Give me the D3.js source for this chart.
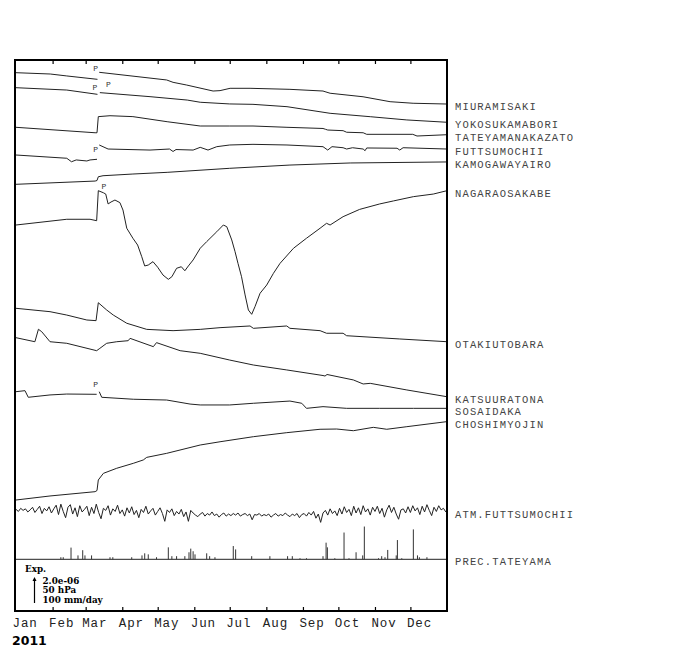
<!DOCTYPE html>
<html><head><meta charset="utf-8">
<script src="https://cdn.jsdelivr.net/npm/d3@7"></script>
<style>body{margin:0;background:#fff}</style>
</head><body>
<svg id="c" width="700" height="670"></svg>
<script>
// ---------- DATA ----------
const months = ["Jan","Feb","Mar","Apr","May","Jun","Jul","Aug","Sep","Oct","Nov","Dec"];
const monthStartDays = [0,31,59,90,120,151,181,212,243,273,304,334];
const yearLabel = "2011";

// strain series: [day of year, strain change in 1e-7 relative to Jan 1]; null = gap
const miuramisaki = [[0,0],[29,-1.0],[43,-2.5],[69,-5.1],[69.8,null],[70.5,0.3],[127.6,-5.6],[133,-7.4],[144.6,-9.5],[166.9,-14.1],[172.8,-13.8],[181.3,-12],[198.2,-12],[232,-12.8],[260,-14.1],[261.7,-14.6],[266,-15.8],[293.9,-18.5],[316.8,-22.3],[336.3,-23.5],[365,-24.1]];
const yokosukamabori = [[0,0],[43,-1.8],[69,-5.1],[70,null],[71,-3.8],[113.5,-6.9],[145,-9.5],[156,-11.2],[181,-12.5],[200.7,-12.8],[229.5,-14.6],[266,-19.7],[300,-22.3],[331,-24.8],[365,-26.6]];
const tateyamanakazato = [[0,0],[67,-4.2],[68.6,-4.2],[69.7,8.2],[79.6,8.9],[99,8.2],[128,4.3],[156,1.0],[181,1.0],[200.7,1.0],[229.5,0],[260,-0.9],[262,-1.5],[264,-2.1],[277,-2.6],[280,-3.8],[294,-4.2],[297,-5.4],[336,-5.4],[339.6,-6.7],[365,-5.7]];
const futtsumochii = [[0,0],[43,-2.5],[47,-5.2],[51,-3.8],[60,-4.6],[62.7,-3.8],[68.6,-3.3],[69.5,null],[70.5,7.7],[78,4.6],[113.5,3.8],[130,4.6],[133,2.7],[135.5,4.2],[150,3.8],[156,5.9],[162.6,3.8],[170,6.4],[181,7.7],[200.7,8.2],[229.5,7.7],[260,6.4],[264,3.8],[267.6,6.4],[277,5.6],[280,4.6],[285,5.6],[294,4.6],[295.6,3.3],[297,5.4],[322.7,5.2],[325,3.8],[327.8,5.6],[365,4.6]];
const kamogawayairo = [[0,0],[67,2.5],[68.6,2.9],[69.7,5.8],[73.7,6.6],[99,7.9],[128,9.2],[181,12.3],[232,14.8],[283,16.4],[365,17.2]];
const nagaraosakabe = [[0,0],[43,4.4],[62.7,4.4],[68.3,3.3],[69.7,26.4],[74,24.8],[76,23.8],[78,16.2],[80.5,17.7],[83.8,19.2],[88,17.2],[90.6,11.5],[93.8,-2.5],[99,-10.2],[103,-15.4],[106.5,-24.4],[109,-31.5],[112,-30.8],[116,-28.2],[120,-32.5],[124.5,-38.5],[129,-41.8],[132,-39.8],[136,-33.3],[140,-32.1],[143,-35.2],[146,-31.5],[150,-26.9],[156,-17.9],[161.5,-12.8],[170,-5.2],[175.6,0],[178.5,-1.3],[182.7,-11.5],[185.5,-20.5],[188,-29.5],[191,-39.8],[194,-53.8],[196.8,-65.4],[199.6,-68.7],[202.4,-62.8],[206.7,-52.5],[212.3,-46.2],[218,-37.2],[223.6,-29.5],[235,-17.9],[246,-10.2],[257.5,-2.5],[263,1.3],[266,0],[277,6.4],[291,12.0],[308,16.2],[319.6,18.5],[336.5,21.8],[353.4,23.8],[365,26.4]];
const otakiutobara = [[0,0],[28.8,-2.6],[43,-5.2],[60,-9.0],[67.8,-9.5],[69.7,4.3],[76.8,-1.3],[82.4,-5.2],[93.8,-11.5],[110.7,-16.2],[133,-17.2],[156,-16.2],[172.8,-14.9],[198.2,-13.6],[201,-15.4],[229.3,-13.6],[232,-15.4],[257.5,-17.2],[263,-19.2],[277,-19.2],[280,-21.1],[325,-23.6],[365,-25.7]];
const katsuuratona = [[0,0],[16,-3.1],[19,6.5],[21.8,4.6],[28.8,-3.1],[43,-4.3],[68.3,-10.0],[71,-8.2],[76.8,-4.3],[85.3,-3.1],[95,-2.3],[96.6,-0.5],[116.3,-6.9],[119,-3.8],[139,-10.0],[156,-12.0],[181,-17.2],[201,-21.0],[229.3,-24.8],[260,-29.1],[261.7,-29.5],[263.4,-28.3],[285.7,-32.5],[294,-35.6],[300,-35.1],[331,-40.2],[365,-45.4]];
const sosaidaka = [[0,0],[7.6,0.8],[10.4,-4.3],[28.8,-2.5],[43,-1.8],[68.3,-2.0],[69.4,null],[70.5,0],[72.6,-4.3],[99.3,-5.8],[127.6,-6.4],[147.4,-9.5],[156,-10.2],[181,-10.2],[201,-8.9],[232,-7.2],[242,-8.9],[246,-12.8],[260,-11.5],[280,-12.8],[308,-12.8],[336.5,-12.8],[365,-12.8]];
const choshimyojin = [[0,0],[28.8,3.1],[67,6.4],[68.6,7.3],[69.7,15.4],[74,20.5],[85.3,24.4],[99.3,28.2],[107.8,30.8],[110.7,32.8],[127.6,35.9],[156,42.3],[172.8,44.8],[201,48.7],[229.3,51.8],[257.5,54.4],[271.6,54.6],[285.7,53.3],[302.6,55.9],[314,54.4],[331,56.4],[365,60.3]];

// atmospheric pressure at Futtsumochii (hPa), one value every 2 days from Jan 1
const atmPressure = [
 1020,1016,1022,1018,1021,1015,1019,1024,1014,1020,1026,1012,1022,1017,1025,1013,            // Jan
 1021,1028,1010,1030,1016,1004,1024,1029,1011,1023,1006,1027,1015,1020,                      // Feb
 1026,1008,1024,1012,1030,1014,1002,1022,1018,1027,1009,1021,1016,1028,1012,                 // Mar
 1019,1007,1023,1013,1025,1010,1018,1004,1020,1014,1026,1011,1017,1022,1009,                 // Apr
 1016,1023,1012,997,1019,1014,1021,1008,1016,1011,1020,1006,1015,997,1018,1013,              // May
 1009,1006,1011,1014,1007,1012,1009,1015,1008,1011,1005,1010,1013,1007,1011,                 // Jun
 1008,1012,1009,1013,1007,1010,1012,1008,1011,1000,1010,1009,1012,1007,1010,                 // Jul
 1008,1011,1005,1009,1012,1007,1010,1008,1013,1009,1006,1011,1008,1012,1004,1010,            // Aug
 1012,1007,1014,1009,1016,1003,1011,995,1013,1018,1009,1021,1012,1017,1008,                  // Sep
 1022,1011,1025,1014,1020,1008,1026,1013,1023,1010,1027,1015,1021,1009,1024,                 // Oct
 1016,1026,1012,1022,1005,1019,1028,1014,1024,1011,1001,1019,1021,1013,1025,                 // Nov
 1014,1027,1017,1023,1010,1026,1015,1029,1018,1008,1024,1016,1027,1019,1022,1015];           // Dec
const atmStepDays = 2;

// daily precipitation at Tateyama (mm/day)
const precipDays = [38,40,46.6,52.5,56.5,58.4,64,79.6,82,98,106.7,109,112,119,129,132,136,143,146.5,148,150,151.6,161.5,164,168.5,184,186,199.6,215,230,234,240.5,246,260,262.6,263.7,270,277.8,282,288,293.6,295,307,309.7,312.5,314.8,322,323,326.7,336.5,340,341.6,348];
const precipMm   = [8,8,45,15,35,15,15,8,8,8,15,23,19,8,46,12,12,12,27,41,31,19,23,12,8,51,38,12,12,12,12,4,4,12,64,46,4,103,4,27,15,126,4,12,8,36,15,74,4,115,15,8,8];

// "P" marks: [series, day, strain]
const pMarks = [["MIURAMISAKI",67.5,3.4],["YOKOSUKAMABORI",66.9,0.3],["YOKOSUKAMABORI",78.2,2.6],["FUTTSUMOCHII",67.5,4.6],["NAGARAOSAKABE",74.5,30],["SOSAIDAKA",67.5,5.7]];

const strainNames = ["MIURAMISAKI","YOKOSUKAMABORI","TATEYAMANAKAZATO","FUTTSUMOCHII","KAMOGAWAYAIRO","NAGARAOSAKABE","OTAKIUTOBARA","KATSUURATONA","SOSAIDAKA","CHOSHIMYOJIN"];
const strainData = [miuramisaki,yokosukamabori,tateyamanakazato,futtsumochii,kamogawayairo,nagaraosakabe,otakiutobara,katsuuratona,sosaidaka,choshimyojin];

// ---------- LAYOUT ----------
const plot = {left:16, right:447, top:60, bottom:611};
const strainBase = [72.7,87.7,127.3,155,184.3,225,308.3,337.7,391.7,500]; // y of Jan 1 for each trace
const expLen = 26;             // legend arrow length in px
const atmRef = {p:1013, y:513};
const precBaseY = 559.3;
const monoFont = "Liberation Mono, monospace";

const svg = d3.select("#c");
const x = d3.scaleLinear().domain([0,365]).range([plot.left, plot.right]);
const strainPx = expLen/20;   // px per 1e-7

svg.append("defs").append("clipPath").attr("id","clip")
  .append("rect").attr("x",plot.left-1).attr("y",plot.top).attr("width",plot.right-plot.left+1).attr("height",plot.bottom-plot.top);

const g = svg.append("g").attr("clip-path","url(#clip)");
const endY = {};
const yFor = i => d3.scaleLinear().domain([0,20]).range([strainBase[i], strainBase[i]-20*strainPx]);
strainNames.forEach((name,i)=>{
  const y = yFor(i);
  const line = d3.line().defined(d=>d[1]!==null).x(d=>x(d[0])).y(d=>y(d[1]));
  g.append("path").datum(strainData[i]).attr("d",line)
    .attr("fill","none").attr("stroke","#222").attr("stroke-width",1);
  const last = strainData[i][strainData[i].length-1];
  endY[name] = y(last[1]);
});
// P marks
pMarks.forEach(([name,day,v])=>{
  const y = yFor(strainNames.indexOf(name));
  svg.append("text").attr("x",x(day)).attr("y",y(v)).attr("text-anchor","middle")
    .attr("dominant-baseline","central").attr("font-family",monoFont)
    .attr("font-size",8).attr("fill","#333").text("P");
});

// pressure
const yAtm = d3.scaleLinear().domain([atmRef.p, atmRef.p+50]).range([atmRef.y, atmRef.y-expLen]);
const atmLine = d3.line().x((d,i)=>x(i*atmStepDays)).y(d=>yAtm(d));
g.append("path").datum(atmPressure).attr("d",atmLine).attr("fill","none").attr("stroke","#222").attr("stroke-width",1);
endY["ATM.FUTTSUMOCHII"] = yAtm(atmPressure[atmPressure.length-1]);

// precipitation
const yPrec = d3.scaleLinear().domain([0,100]).range([precBaseY, precBaseY-expLen]);
g.append("line").attr("x1",plot.left).attr("x2",plot.right).attr("y1",precBaseY).attr("y2",precBaseY).attr("stroke","#222");
g.selectAll(".pb").data(precipDays).join("line").attr("class","pb")
  .attr("x1",d=>x(d)).attr("x2",d=>x(d)).attr("y1",yPrec(0)).attr("y2",(d,i)=>yPrec(precipMm[i]))
  .attr("stroke","#333").attr("stroke-width",1);
endY["PREC.TATEYAMA"] = precBaseY;

// frame
svg.append("rect").attr("x",plot.left-1).attr("y",plot.top).attr("width",plot.right-plot.left+1).attr("height",plot.bottom-plot.top)
  .attr("fill","none").attr("stroke","#000").attr("stroke-width",2);

// month ticks
const tickDays = monthStartDays.slice(1);
const axB = svg.append("g").attr("transform",`translate(0,${plot.bottom})`).call(d3.axisBottom(x).tickValues(tickDays).tickSize(-4).tickFormat(""));
const axT = svg.append("g").attr("transform",`translate(0,${plot.top})`).call(d3.axisTop(x).tickValues(tickDays).tickSize(-4).tickFormat(""));
[axB,axT].forEach(a=>{a.select(".domain").remove(); a.selectAll("line").attr("stroke","#000").attr("stroke-width",1.2);});

svg.selectAll(".ml").data(months).join("text").attr("class","ml")
  .attr("x",(d,i)=>x(monthStartDays[i])-3.5).attr("y",627)
  .attr("font-family",monoFont).attr("font-size",12.5).attr("letter-spacing",0.9).attr("fill","#222").text(d=>d);
svg.append("text").attr("x",12).attr("y",645).attr("font-family","DejaVu Sans, sans-serif").attr("font-weight","bold")
  .attr("font-size",12.5).attr("fill","#000").text(yearLabel);

// right labels
const labelNames = strainNames.concat(["ATM.FUTTSUMOCHII","PREC.TATEYAMA"]);
const labs = labelNames.map(n=>({n, y:endY[n]+3})).sort((a,b)=>a.y-b.y);
for(let k=1;k<labs.length;k++){ if(labs[k].y-labs[k-1].y<12) labs[k].y = labs[k-1].y+12; }
svg.selectAll(".rl").data(labs).join("text").attr("class","rl")
  .attr("x",455).attr("y",d=>d.y).attr("dominant-baseline","central")
  .attr("font-family",monoFont).attr("font-size",10.5).attr("letter-spacing",1.15).attr("fill","#444").text(d=>d.n);

// legend
const lg = svg.append("g").attr("font-family","DejaVu Serif, serif").attr("font-weight","bold").attr("font-size",8.8).attr("fill","#000");
lg.append("text").attr("x",25).attr("y",572).text("Exp.");
const ax0 = 34.5, ay1 = 603, ay0 = ay1-expLen;
lg.append("line").attr("x1",ax0).attr("x2",ax0).attr("y1",ay1).attr("y2",ay0+2).attr("stroke","#000").attr("stroke-width",1.2);
lg.append("path").attr("d",`M${ax0-2},${ay0+4}L${ax0},${ay0}L${ax0+2},${ay0+4}Z`).attr("fill","#000");
["2.0e-06","50 hPa","100 mm/day"].forEach((t,i)=>lg.append("text").attr("x",42.5).attr("y",584+i*9.3).text(t));
</script>
</body></html>
